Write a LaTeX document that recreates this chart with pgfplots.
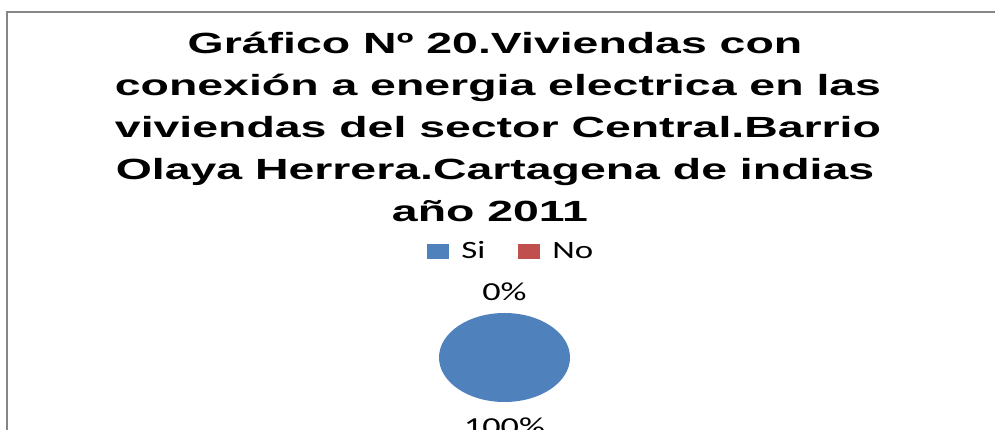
\documentclass[border=0pt]{standalone}
\usepackage{pgfplots}
\usepackage{pgfplotstable}
\pgfplotsset{compat=1.18}
\usepackage{fontspec}
\setmainfont[FakeStretch=1.4]{Carlito}
\newfontfamily\titlefont[FakeStretch=1.59]{Liberation Sans}
\definecolor{siblue}{HTML}{4F81BD}
\definecolor{nored}{HTML}{C0504D}
\definecolor{framegray}{HTML}{868686}

\pgfplotstableread{
cat value
Si 100
No 0
}\piedata

\begin{document}
\begin{tikzpicture}
\pgfplotstablegetelem{0}{value}\of\piedata \let\vSi\pgfplotsretval
\pgfplotstablegetelem{1}{value}\of\piedata \let\vNo\pgfplotsretval
\pgfmathsetmacro\total{\vSi+\vNo}
\pgfmathsetmacro\fSi{\vSi/\total}
\pgfmathsetmacro\fNo{\vNo/\total}
\pgfmathsetmacro\aSi{360*\fSi}
\pgfmathsetmacro\aNo{360*\fNo}
\pgfmathsetmacro\endSi{90-\aSi}
\pgfmathsetmacro\endNo{\endSi-\aNo}
\pgfmathsetmacro\midSi{90-\aSi/2}
\pgfmathsetmacro\midNo{\endSi-\aNo/2}
\pgfmathtruncatemacro\pSi{round(100*\fSi)}
\pgfmathtruncatemacro\pNo{round(100*\fNo)}
\draw[framegray, line width=2bp] (7bp,-60bp) -- (7bp,418bp) -- (1100bp,418bp);
\begin{scope}[every node/.style={font=\titlefont\bfseries\fontsize{29.3}{42}\selectfont, anchor=base, inner sep=0pt}]
\node at (495bp,376.7bp) {Gráfico Nº 20.Viviendas con};
\node at (498bp,334.7bp) {conexión a energia electrica en las};
\node at (498bp,292.7bp) {viviendas del sector Central.Barrio};
\node at (495bp,250.7bp) {Olaya Herrera.Cartagena de indias};
\node at (490bp,208.7bp) {año 2011};
\end{scope}
\begin{axis}[hide axis, scale only axis, width=131bp, height=89bp,
  xmin=-1, xmax=1, ymin=-1, ymax=1, anchor=center, at={(504.5bp,72.5bp)},
  clip=false,
  legend columns=2,
  legend style={draw=none, fill=none, at={(-0.0916,1.697)}, anchor=west,
    inner sep=0pt, nodes={inner sep=0pt},
    font=\fontsize{25}{28}\selectfont,
    /tikz/every odd column/.append style={column sep=12.7bp},
    /tikz/every even column/.append style={column sep=33bp}},
  ]
\addlegendimage{legend image code/.code={\fill[siblue] (0bp,-7bp) rectangle (21bp,7bp);}}
\addlegendentry{Si}
\addlegendimage{legend image code/.code={\fill[nored] (0bp,-7bp) rectangle (21bp,7bp);}}
\addlegendentry{No}
\fill[siblue] (axis cs:0,0) -- (axis cs:{cos(90)},{sin(90)})
  arc[start angle=90, end angle=\endSi, x radius=1, y radius=1] -- cycle;
\node[font=\fontsize{26}{28}\selectfont] at (axis cs:{1.5*cos(\midSi)},{1.555*sin(\midSi)}) {\pSi\%};
\node[font=\fontsize{26}{28}\selectfont] at (axis cs:{1.5*cos(\midNo)},{1.485*sin(\midNo)}) {\pNo\%};
\end{axis}
\pgfresetboundingbox
\path[use as bounding box] (0bp,0bp) rectangle (995bp,430bp);
\end{tikzpicture}
\end{document}
